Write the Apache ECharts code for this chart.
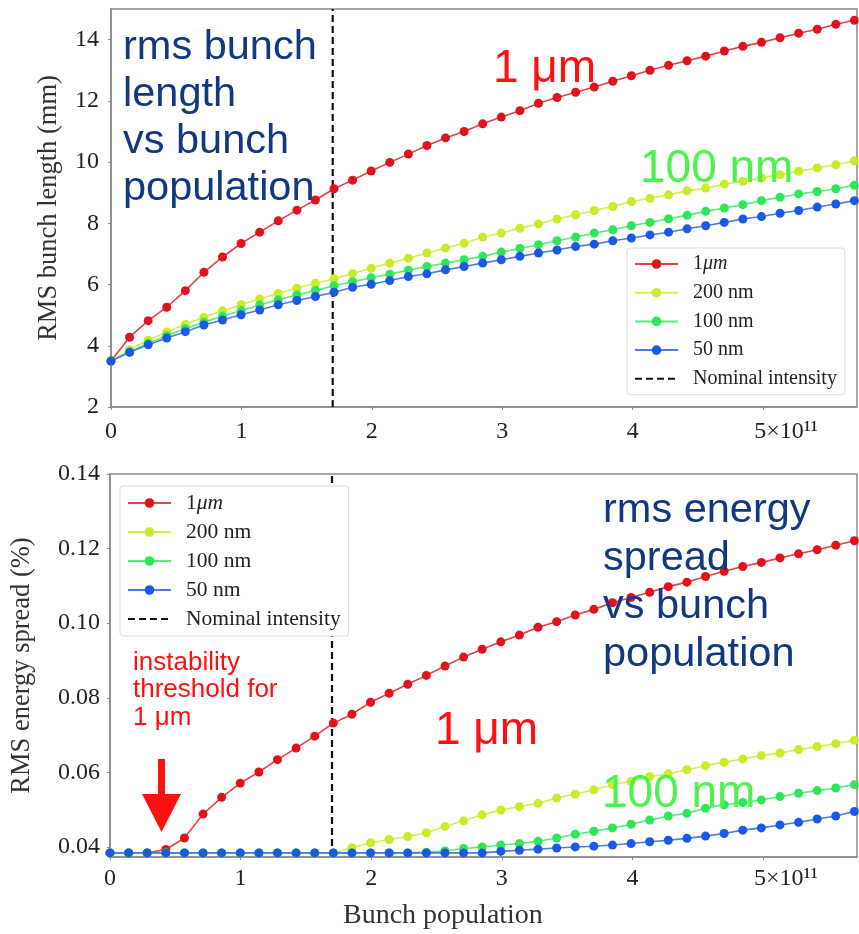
<!DOCTYPE html>
<html>
<head>
<meta charset="utf-8">
<script src="https://cdn.jsdelivr.net/npm/echarts@6.0.0/dist/echarts.min.js"></script>
<style>
  html, body { margin: 0; padding: 0; background: #fff; }
  #chart { width: 859px; height: 934px; }
</style>
</head>
<body>
<div id="chart"></div>
<script>
// bunch population in units of 1e11
var population = [0, 0.1425, 0.285, 0.4275, 0.57, 0.7125, 0.855, 0.9975, 1.14, 1.2825,
    1.425, 1.5675, 1.71, 1.8525, 1.995, 2.1375, 2.28, 2.4225, 2.565, 2.7075,
    2.85, 2.9925, 3.135, 3.2775, 3.42, 3.5625, 3.705, 3.8475, 3.99, 4.1325,
    4.275, 4.4175, 4.56, 4.7025, 4.845, 4.9875, 5.13, 5.2725, 5.415, 5.5575, 5.7];

var nominalIntensity = 1.7;

// RMS bunch length (mm)
var lenRed = [3.5, 4.28, 4.82, 5.26, 5.80, 6.40, 6.90, 7.34, 7.71, 8.08,
    8.43, 8.76, 9.13, 9.41, 9.71, 9.99, 10.26, 10.54, 10.79, 11.0,
    11.25, 11.47, 11.68, 11.92, 12.11, 12.28, 12.45, 12.64, 12.82, 13.0,
    13.16, 13.31, 13.46, 13.63, 13.78, 13.91, 14.06, 14.21, 14.34, 14.50, 14.63];
var lenYellow = [3.5, 3.88, 4.18, 4.45, 4.70, 4.93, 5.14, 5.34, 5.53, 5.71,
    5.88, 6.04, 6.19, 6.36, 6.53, 6.70, 6.86, 7.03, 7.19, 7.35,
    7.55, 7.68, 7.84, 7.98, 8.14, 8.28, 8.42, 8.55, 8.71, 8.82,
    8.93, 9.06, 9.15, 9.28, 9.37, 9.48, 9.59, 9.70, 9.81, 9.91, 10.04];
var lenGreen = [3.5, 3.80, 4.08, 4.33, 4.56, 4.77, 4.97, 5.15, 5.33, 5.50,
    5.66, 5.81, 5.96, 6.09, 6.22, 6.34, 6.47, 6.59, 6.70, 6.81,
    6.92, 7.06, 7.18, 7.30, 7.43, 7.55, 7.68, 7.79, 7.92, 8.03,
    8.15, 8.26, 8.39, 8.50, 8.61, 8.74, 8.85, 8.96, 9.04, 9.13, 9.24];
var lenBlue = [3.5, 3.79, 4.03, 4.25, 4.46, 4.68, 4.84, 5.01, 5.17, 5.34,
    5.48, 5.61, 5.75, 5.91, 6.01, 6.13, 6.26, 6.35, 6.48, 6.59,
    6.70, 6.81, 6.92, 7.03, 7.13, 7.24, 7.32, 7.43, 7.52, 7.62,
    7.71, 7.82, 7.92, 8.03, 8.14, 8.22, 8.33, 8.42, 8.53, 8.63, 8.74];

// RMS energy spread (%)
var spreadRed = [0.0384, 0.0384, 0.0384, 0.0393, 0.0424, 0.0488, 0.0533, 0.0571, 0.0601, 0.0634,
    0.0665, 0.0697, 0.0732, 0.0756, 0.0788, 0.0812, 0.0836, 0.0860, 0.0885, 0.0909,
    0.0930, 0.0950, 0.0968, 0.0989, 0.1004, 0.1022, 0.1037, 0.1055, 0.1069, 0.1083,
    0.1098, 0.1110, 0.1125, 0.1139, 0.1152, 0.1163, 0.1175, 0.1186, 0.1197, 0.1209, 0.1221];
var spreadYellow = [0.0384, 0.0384, 0.0384, 0.0384, 0.0384, 0.0384, 0.0384, 0.0384, 0.0384, 0.0384,
    0.0384, 0.0384, 0.0384, 0.0398, 0.0411, 0.0420, 0.0428, 0.0438, 0.0455, 0.0470,
    0.0486, 0.0499, 0.0508, 0.0517, 0.0531, 0.0542, 0.0553, 0.0567, 0.0576, 0.0589,
    0.0596, 0.0607, 0.0618, 0.0627, 0.0636, 0.0645, 0.0652, 0.0661, 0.0669, 0.0677, 0.0686];
var spreadGreen = [0.0384, 0.0384, 0.0384, 0.0384, 0.0384, 0.0384, 0.0384, 0.0384, 0.0384, 0.0384,
    0.0384, 0.0384, 0.0384, 0.0384, 0.0384, 0.0384, 0.0384, 0.0386, 0.0389, 0.0396,
    0.0400, 0.0405, 0.0409, 0.0415, 0.0424, 0.0434, 0.0442, 0.0451, 0.0461, 0.0472,
    0.0483, 0.0490, 0.0504, 0.0513, 0.0519, 0.0526, 0.0535, 0.0544, 0.0551, 0.0558, 0.0567];
var spreadBlue = [0.0384, 0.0384, 0.0384, 0.0384, 0.0384, 0.0384, 0.0384, 0.0384, 0.0384, 0.0384,
    0.0384, 0.0384, 0.0384, 0.0384, 0.0384, 0.0384, 0.0384, 0.0384, 0.0384, 0.0384,
    0.0384, 0.0388, 0.0391, 0.0394, 0.0397, 0.0400, 0.0402, 0.0405, 0.0409, 0.0414,
    0.0418, 0.0423, 0.0429, 0.0436, 0.0445, 0.0451, 0.0459, 0.0466, 0.0475, 0.0483, 0.0495];

var seriesNames = ['1μm', '200 nm', '100 nm', '50 nm'];
var dotColors = ['#e3101e', '#c8ec28', '#2ee65a', '#1a58e6'];
var lineColors = ['#e8404a', '#d4f050', '#5aec7c', '#4a7cec'];
var xTicks = [0, 1, 2, 3, 4, 5];
var lenTicks = [2, 4, 6, 8, 10, 12, 14];
var spreadTicks = [0.04, 0.06, 0.08, 0.10, 0.12, 0.14];

var serif = '"Liberation Serif", "DejaVu Serif", serif';
var sans = '"Liberation Sans", Arial, sans-serif';
var axisGray = '#8a8a8a';

function pairs(ys) {
    return population.map(function (x, i) { return [x, ys[i]]; });
}

function curve(name, idx, ys, grid) {
    return {
        name: name, type: 'line', xAxisIndex: grid, yAxisIndex: grid,
        data: pairs(ys), symbol: 'circle', symbolSize: 9,
        lineStyle: { color: lineColors[idx], width: 1.6 },
        itemStyle: { color: dotColors[idx] },
        emphasis: { disabled: true }, animation: false, z: 3 + idx
    };
}

function nominalLine(grid, y0, y1) {
    return {
        name: 'Nominal intensity', type: 'line', xAxisIndex: grid, yAxisIndex: grid,
        data: [[nominalIntensity, y0], [nominalIntensity, y1]],
        symbol: 'none', lineStyle: { color: '#111', width: 2.2, type: [7, 4] },
        itemStyle: { color: '#111' }, animation: false, z: 2, silent: true
    };
}

function xAxis(grid, margin) {
    return {
        type: 'value', gridIndex: grid, min: 0, max: 5.72, interval: 1,
        splitLine: { show: false },
        axisLine: { show: true, onZero: false, lineStyle: { color: axisGray, width: 1.5 } },
        axisTick: { show: true, length: 3, customValues: xTicks, lineStyle: { color: axisGray } },
        axisLabel: {
            customValues: xTicks, margin: margin, color: '#222', fontFamily: serif, fontSize: 24,
            // "5" stays centred on its tick, the exponent hangs to the right
            formatter: function (v) { return v === 5 ? '{s|}{e|5×10¹¹}' : String(v); },
            rich: {
                s: { width: 46, fontFamily: serif, fontSize: 24 },
                e: { fontFamily: serif, fontSize: 24, color: '#222' }
            }
        }
    };
}

function yAxis(grid, min, max, ticks, name, gap, fmt, margin) {
    return {
        type: 'value', gridIndex: grid, min: min, max: max,
        name: name, nameLocation: 'middle', nameGap: gap,
        nameTextStyle: { fontFamily: serif, fontSize: 26.5, color: '#333' },
        splitLine: { show: false },
        axisLine: { show: true, onZero: false, lineStyle: { color: axisGray, width: 1.5 } },
        axisTick: { show: true, length: 3, customValues: ticks, lineStyle: { color: axisGray } },
        axisLabel: { customValues: ticks, margin: margin, color: '#222', fontFamily: serif, fontSize: 24, formatter: fmt }
    };
}

function legend(left, top, size, gap) {
    return {
        orient: 'vertical', left: left, top: top,
        data: seriesNames.concat([{ name: 'Nominal intensity', itemStyle: { color: 'rgba(0,0,0,0)', borderWidth: 0 } }]),
        itemWidth: 43, itemHeight: 12, itemGap: gap,
        padding: [6, 8, 6, 7],
        backgroundColor: '#fff', borderColor: '#dcdcdc', borderWidth: 1, borderRadius: 3,
        selectedMode: false,
        textStyle: {
            fontFamily: serif, fontSize: size, color: '#222', lineHeight: 20, padding: [0, 0, 0, 10],
            rich: { i: { fontFamily: serif, fontSize: size, fontStyle: 'italic', color: '#222' } }
        },
        formatter: function (n) { return n === '1μm' ? '1{i|μm}' : n; }
    };
}

function label(left, top, text, size, color, lh) {
    return {
        type: 'text', left: left, top: top, z: 100,
        style: { text: text, font: size + 'px ' + sans, fill: color, lineHeight: lh || size }
    };
}

var chart = echarts.init(document.getElementById('chart'), null, { renderer: 'canvas' });

var navy = '#12387f';
var red = '#ff1010';
var lightGreen = '#4ef24e';

chart.setOption({
    backgroundColor: '#fff',
    animation: false,
    grid: [
        { left: 111, top: 9, width: 746, height: 398, show: true, borderColor: axisGray, borderWidth: 1.5 },
        { left: 110, top: 474, width: 747, height: 383, show: true, borderColor: axisGray, borderWidth: 1.5 }
    ],
    xAxis: [xAxis(0, 13), xAxis(1, 10)],
    yAxis: [
        yAxis(0, 2, 15, lenTicks, 'RMS bunch length (mm)', 48, function (v) { return String(v); }, 12),
        yAxis(1, 0.0373, 0.14, spreadTicks, 'RMS energy spread (%)', 74, function (v) { return v.toFixed(2); }, 10)
    ],
    legend: [legend(627, 248, 20, 8.7), legend(120, 486, 21.5, 7)],
    series: [
        nominalLine(0, 2, 15),
        curve(seriesNames[0], 0, lenRed, 0),
        curve(seriesNames[1], 1, lenYellow, 0),
        curve(seriesNames[2], 2, lenGreen, 0),
        curve(seriesNames[3], 3, lenBlue, 0),
        nominalLine(1, 0.0373, 0.14),
        curve(seriesNames[0], 0, spreadRed, 1),
        curve(seriesNames[1], 1, spreadYellow, 1),
        curve(seriesNames[2], 2, spreadGreen, 1),
        curve(seriesNames[3], 3, spreadBlue, 1)
    ],
    graphic: [
        label(123, 24, 'rms bunch\nlength\nvs bunch\npopulation', 41.5, navy, 47),
        label(493, 46, '1 μm', 46, red),
        label(640, 146, '100 nm', 46, lightGreen),
        label(603, 487, 'rms energy\nspread\nvs bunch\npopulation', 41.5, navy, 48),
        label(435, 708, '1 μm', 46, red),
        label(602, 771, '100 nm', 46, lightGreen),
        label(133, 649, 'instability\nthreshold for\n1 μm', 26, red, 27.5),
        { type: 'rect', shape: { x: 158, y: 759, width: 7, height: 36 }, style: { fill: red }, z: 100 },
        { type: 'polygon', shape: { points: [[142, 794], [181, 794], [161.5, 832]] }, style: { fill: red }, z: 100 },
        {
            type: 'text', left: 343, top: 902, z: 100,
            style: { text: 'Bunch population', font: '28px ' + serif, fill: '#333' }
        }
    ]
});
</script>
</body>
</html>
